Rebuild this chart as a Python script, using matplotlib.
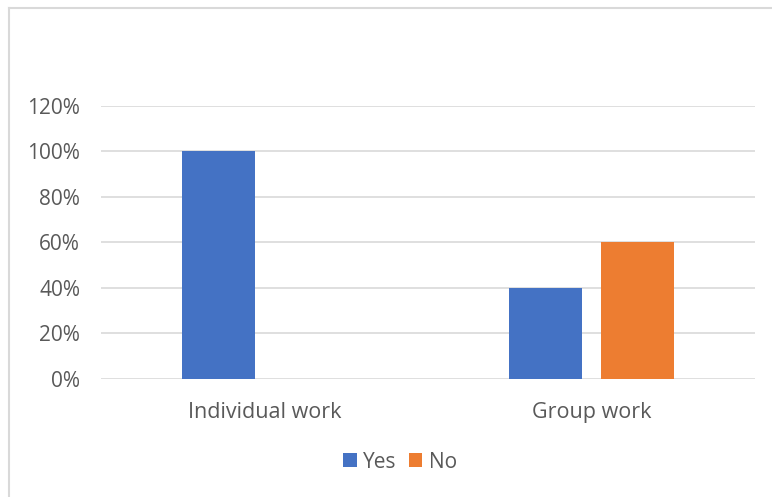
import matplotlib
matplotlib.use("Agg")
import matplotlib.pyplot as plt
from matplotlib.lines import Line2D
from matplotlib.ticker import PercentFormatter
import numpy as np

# dados do grafico
categorias = ["Individual work", "Group work"]
yes = [1.00, 0.40]
no = [0.00, 0.60]
yticks = [0, 0.2, 0.4, 0.6, 0.8, 1.0, 1.2]

azul = "#4472C4"
laranja = "#ED7D31"
cinza_texto = "#595959"

plt.rcParams["font.family"] = ["Open Sans", "DejaVu Sans"]

fig = plt.figure(figsize=(7.72, 4.97), dpi=100)
ax = fig.add_axes([0.1308, 0.2384, 0.978 - 0.1308, 0.7867 - 0.2384])

x = np.arange(len(categorias))
largura = 0.223
desloc = 0.142
ax.bar(x - desloc, yes, largura, color=azul, label="Yes", zorder=3)
ax.bar(x + desloc, no, largura, color=laranja, label="No", zorder=3)

ax.set_xlim(-0.5, 1.5)
ax.set_ylim(0, 1.2)
ax.set_yticks(yticks)
ax.yaxis.set_major_formatter(PercentFormatter(1.0, decimals=0))
ax.set_xticks(x)
ax.set_xticklabels(categorias)

ax.grid(axis="y", color="#D9D9D9", linewidth=1.2, zorder=0)
for lado in ["top", "right", "left", "bottom"]:
    ax.spines[lado].set_visible(False)
ax.tick_params(axis="y", length=0, colors=cinza_texto, labelsize=15, pad=15)
ax.tick_params(axis="x", length=0, colors=cinza_texto, labelsize=15.5, pad=17)

leg = fig.legend(loc="center", bbox_to_anchor=(400 / 772, 1 - 462 / 497), ncol=2,
                 frameon=False, fontsize=15, handlelength=0.65, handleheight=0.65,
                 handletextpad=0.3, columnspacing=0.6)
for t in leg.get_texts():
    t.set_color(cinza_texto)

# borda do grafico (apenas topo e esquerda aparecem)
fig.add_artist(Line2D([8.5 / 772, 1], [1 - 7.5 / 497, 1 - 7.5 / 497], color="#D9D9D9", linewidth=1.5))
fig.add_artist(Line2D([8.5 / 772, 8.5 / 772], [0, 1 - 7.5 / 497], color="#D9D9D9", linewidth=1.5))

fig.savefig("out.png", dpi=100)
